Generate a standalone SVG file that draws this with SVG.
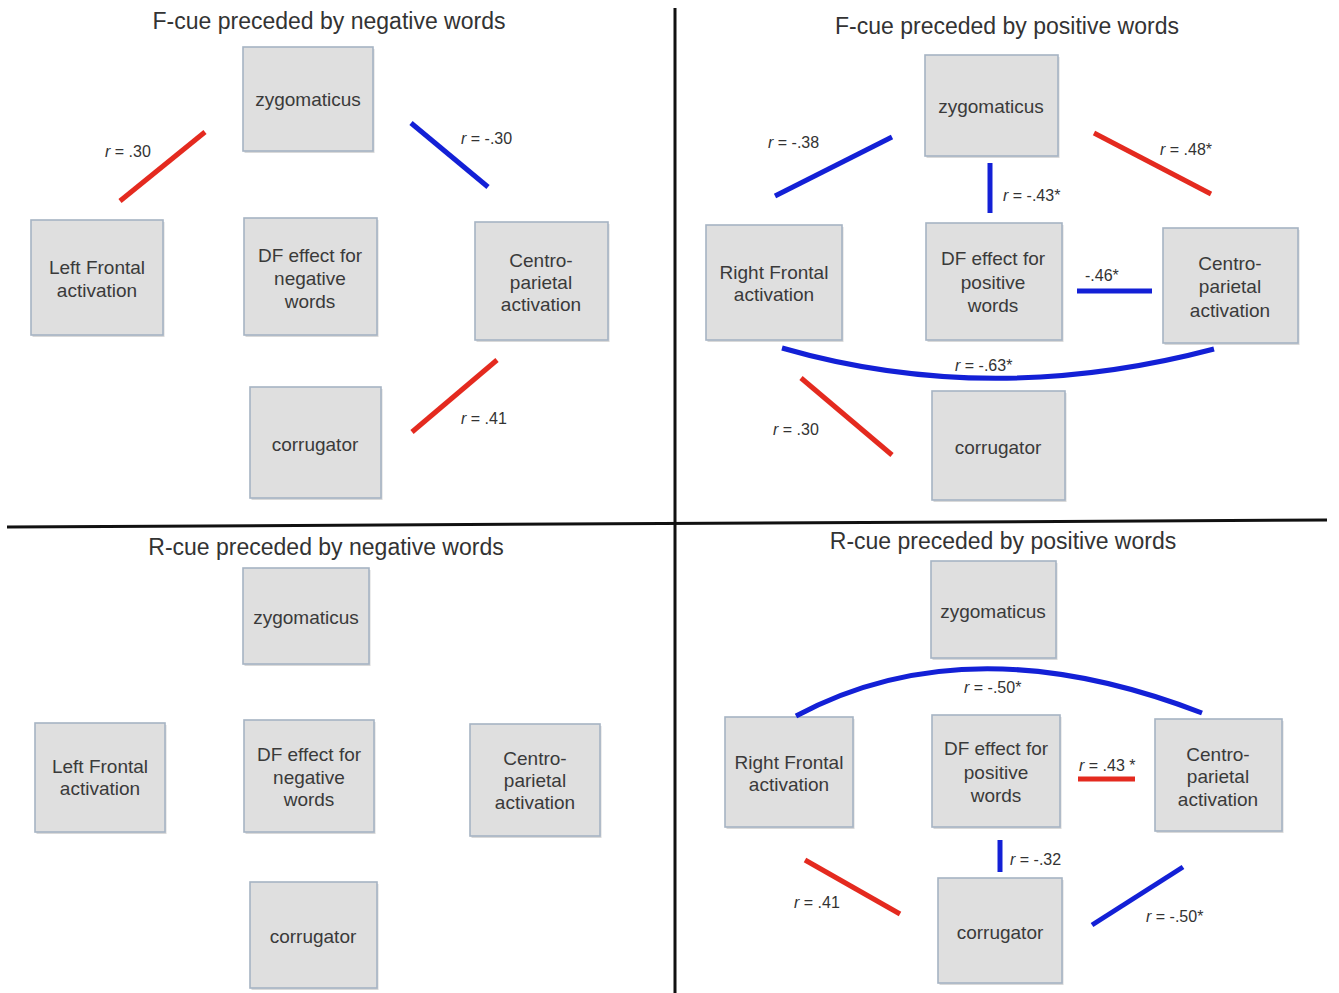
<svg xmlns="http://www.w3.org/2000/svg" width="1339" height="993" viewBox="0 0 1339 993">
<style>
  text { font-family: "Liberation Sans", Arial, sans-serif; fill: #3a3a3a; }
  .title { font-size: 23px; text-anchor: middle; fill: #333; }
  .node rect.box { fill: #dfdfdf; stroke: #a6b3c3; stroke-width: 1.6; }
  .node rect.sh { fill: #b9b9b9; opacity: 0.55; }
  .node text { font-size: 19px; text-anchor: middle; }
  .lab { font-size: 16px; fill: #333; }
  .lab tspan.r { font-style: italic; }
  .red { stroke: #e42a1f; stroke-width: 5; fill: none; }
  .blue { stroke: #1320d6; stroke-width: 5; fill: none; }
  .div { stroke: #111; stroke-width: 3; }
</style>
<rect width="1339" height="993" fill="#ffffff"/>

<g id="dividers">
  <line class="div" x1="675" y1="8" x2="675" y2="993"/>
  <line class="div" x1="7" y1="527" x2="1327" y2="520"/>
</g>

<g id="titles">
  <text class="title" x="329" y="29">F-cue preceded by negative words</text>
  <text class="title" x="1007" y="34">F-cue preceded by positive words</text>
  <text class="title" x="326" y="555">R-cue preceded by negative words</text>
  <text class="title" x="1003" y="549">R-cue preceded by positive words</text>
</g>

<!-- Top-left quadrant -->
<g id="tl-zygomaticus" class="node">
  <rect class="sh" x="244.5" y="49" width="130" height="104"/>
  <rect class="box" x="243" y="47" width="130" height="104"/>
  <text x="308" y="106">zygomaticus</text>
</g>
<g id="tl-leftfrontal" class="node">
  <rect class="sh" x="32.5" y="222" width="132" height="115"/>
  <rect class="box" x="31" y="220" width="132" height="115"/>
  <text x="97" y="274">Left Frontal</text>
  <text x="97" y="297">activation</text>
</g>
<g id="tl-df" class="node">
  <rect class="sh" x="245.5" y="220" width="133" height="117"/>
  <rect class="box" x="244" y="218" width="133" height="117"/>
  <text x="310" y="262">DF effect for</text>
  <text x="310" y="285">negative</text>
  <text x="310" y="308">words</text>
</g>
<g id="tl-centro" class="node">
  <rect class="sh" x="476.5" y="224" width="133" height="118"/>
  <rect class="box" x="475" y="222" width="133" height="118"/>
  <text x="541" y="267">Centro-</text>
  <text x="541" y="289">parietal</text>
  <text x="541" y="311">activation</text>
</g>
<g id="tl-corrugator" class="node">
  <rect class="sh" x="251.5" y="389" width="131" height="111"/>
  <rect class="box" x="250" y="387" width="131" height="111"/>
  <text x="315" y="451">corrugator</text>
</g>

<!-- Top-right quadrant -->
<g id="tr-zygomaticus" class="node">
  <rect class="sh" x="926.5" y="57" width="133" height="101"/>
  <rect class="box" x="925" y="55" width="133" height="101"/>
  <text x="991" y="113">zygomaticus</text>
</g>
<g id="tr-rightfrontal" class="node">
  <rect class="sh" x="707.5" y="227" width="136" height="115"/>
  <rect class="box" x="706" y="225" width="136" height="115"/>
  <text x="774" y="279">Right Frontal</text>
  <text x="774" y="301">activation</text>
</g>
<g id="tr-df" class="node">
  <rect class="sh" x="927.5" y="225" width="136" height="117"/>
  <rect class="box" x="926" y="223" width="136" height="117"/>
  <text x="993" y="265">DF effect for</text>
  <text x="993" y="289">positive</text>
  <text x="993" y="312">words</text>
</g>
<g id="tr-centro" class="node">
  <rect class="sh" x="1164.5" y="230" width="135" height="115"/>
  <rect class="box" x="1163" y="228" width="135" height="115"/>
  <text x="1230" y="270">Centro-</text>
  <text x="1230" y="293">parietal</text>
  <text x="1230" y="317">activation</text>
</g>
<g id="tr-corrugator" class="node">
  <rect class="sh" x="933.5" y="393" width="133" height="109"/>
  <rect class="box" x="932" y="391" width="133" height="109"/>
  <text x="998" y="454">corrugator</text>
</g>

<!-- Bottom-left quadrant -->
<g id="bl-zygomaticus" class="node">
  <rect class="sh" x="244.5" y="570" width="126" height="96"/>
  <rect class="box" x="243" y="568" width="126" height="96"/>
  <text x="306" y="624">zygomaticus</text>
</g>
<g id="bl-leftfrontal" class="node">
  <rect class="sh" x="36.5" y="725" width="130" height="109"/>
  <rect class="box" x="35" y="723" width="130" height="109"/>
  <text x="100" y="773">Left Frontal</text>
  <text x="100" y="795">activation</text>
</g>
<g id="bl-df" class="node">
  <rect class="sh" x="245.5" y="722" width="130" height="112"/>
  <rect class="box" x="244" y="720" width="130" height="112"/>
  <text x="309" y="761">DF effect for</text>
  <text x="309" y="784">negative</text>
  <text x="309" y="806">words</text>
</g>
<g id="bl-centro" class="node">
  <rect class="sh" x="471.5" y="726" width="130" height="112"/>
  <rect class="box" x="470" y="724" width="130" height="112"/>
  <text x="535" y="765">Centro-</text>
  <text x="535" y="787">parietal</text>
  <text x="535" y="809">activation</text>
</g>
<g id="bl-corrugator" class="node">
  <rect class="sh" x="251.5" y="884" width="127" height="106"/>
  <rect class="box" x="250" y="882" width="127" height="106"/>
  <text x="313" y="943">corrugator</text>
</g>

<!-- Bottom-right quadrant -->
<g id="br-zygomaticus" class="node">
  <rect class="sh" x="932.5" y="563" width="125" height="97"/>
  <rect class="box" x="931" y="561" width="125" height="97"/>
  <text x="993" y="618">zygomaticus</text>
</g>
<g id="br-rightfrontal" class="node">
  <rect class="sh" x="726.5" y="719" width="128" height="110"/>
  <rect class="box" x="725" y="717" width="128" height="110"/>
  <text x="789" y="769">Right Frontal</text>
  <text x="789" y="791">activation</text>
</g>
<g id="br-df" class="node">
  <rect class="sh" x="933.5" y="717" width="128" height="112"/>
  <rect class="box" x="932" y="715" width="128" height="112"/>
  <text x="996" y="755">DF effect for</text>
  <text x="996" y="779">positive</text>
  <text x="996" y="802">words</text>
</g>
<g id="br-centro" class="node">
  <rect class="sh" x="1156.5" y="721" width="127" height="112"/>
  <rect class="box" x="1155" y="719" width="127" height="112"/>
  <text x="1218" y="761">Centro-</text>
  <text x="1218" y="783">parietal</text>
  <text x="1218" y="806">activation</text>
</g>
<g id="br-corrugator" class="node">
  <rect class="sh" x="939.5" y="880" width="124" height="105"/>
  <rect class="box" x="938" y="878" width="124" height="105"/>
  <text x="1000" y="939">corrugator</text>
</g>

<g id="connectors">
  <!-- TL -->
  <line class="red" x1="120" y1="201" x2="205" y2="132"/>
  <line class="blue" x1="411" y1="123" x2="488" y2="187"/>
  <line class="red" x1="412" y1="432" x2="497" y2="360"/>
  <!-- TR -->
  <line class="blue" x1="775" y1="196" x2="892" y2="137"/>
  <line class="blue" x1="990" y1="163" x2="990" y2="213"/>
  <line class="red" x1="1094" y1="133" x2="1211" y2="194"/>
  <line class="blue" x1="1077" y1="291" x2="1152" y2="291"/>
  <path class="blue" d="M782,348 Q990,408 1214,349"/>
  <line class="red" x1="801" y1="378" x2="892" y2="455"/>
  <!-- BR -->
  <path class="blue" d="M796,716 Q969,623 1202,713"/>
  <line class="red" x1="1078" y1="779" x2="1135" y2="779"/>
  <line class="blue" x1="1000" y1="840" x2="1000" y2="872"/>
  <line class="red" x1="805" y1="860" x2="900" y2="914"/>
  <line class="blue" x1="1092" y1="925" x2="1183" y2="867"/>
</g>

<g id="labels">
  <text class="lab" x="105" y="157"><tspan class="r">r</tspan> = .30</text>
  <text class="lab" x="461" y="144"><tspan class="r">r</tspan> = -.30</text>
  <text class="lab" x="461" y="424"><tspan class="r">r</tspan> = .41</text>

  <text class="lab" x="768" y="148"><tspan class="r">r</tspan> = -.38</text>
  <text class="lab" x="1003" y="201"><tspan class="r">r</tspan> = -.43*</text>
  <text class="lab" x="1160" y="155"><tspan class="r">r</tspan> = .48*</text>
  <text class="lab" x="1085" y="281">-.46*</text>
  <text class="lab" x="955" y="371"><tspan class="r">r</tspan> = -.63*</text>
  <text class="lab" x="773" y="435"><tspan class="r">r</tspan> = .30</text>

  <text class="lab" x="964" y="693"><tspan class="r">r</tspan> = -.50*</text>
  <text class="lab" x="1079" y="771"><tspan class="r">r</tspan> = .43 *</text>
  <text class="lab" x="1010" y="865"><tspan class="r">r</tspan> = -.32</text>
  <text class="lab" x="794" y="908"><tspan class="r">r</tspan> = .41</text>
  <text class="lab" x="1146" y="922"><tspan class="r">r</tspan> = -.50*</text>
</g>
</svg>
